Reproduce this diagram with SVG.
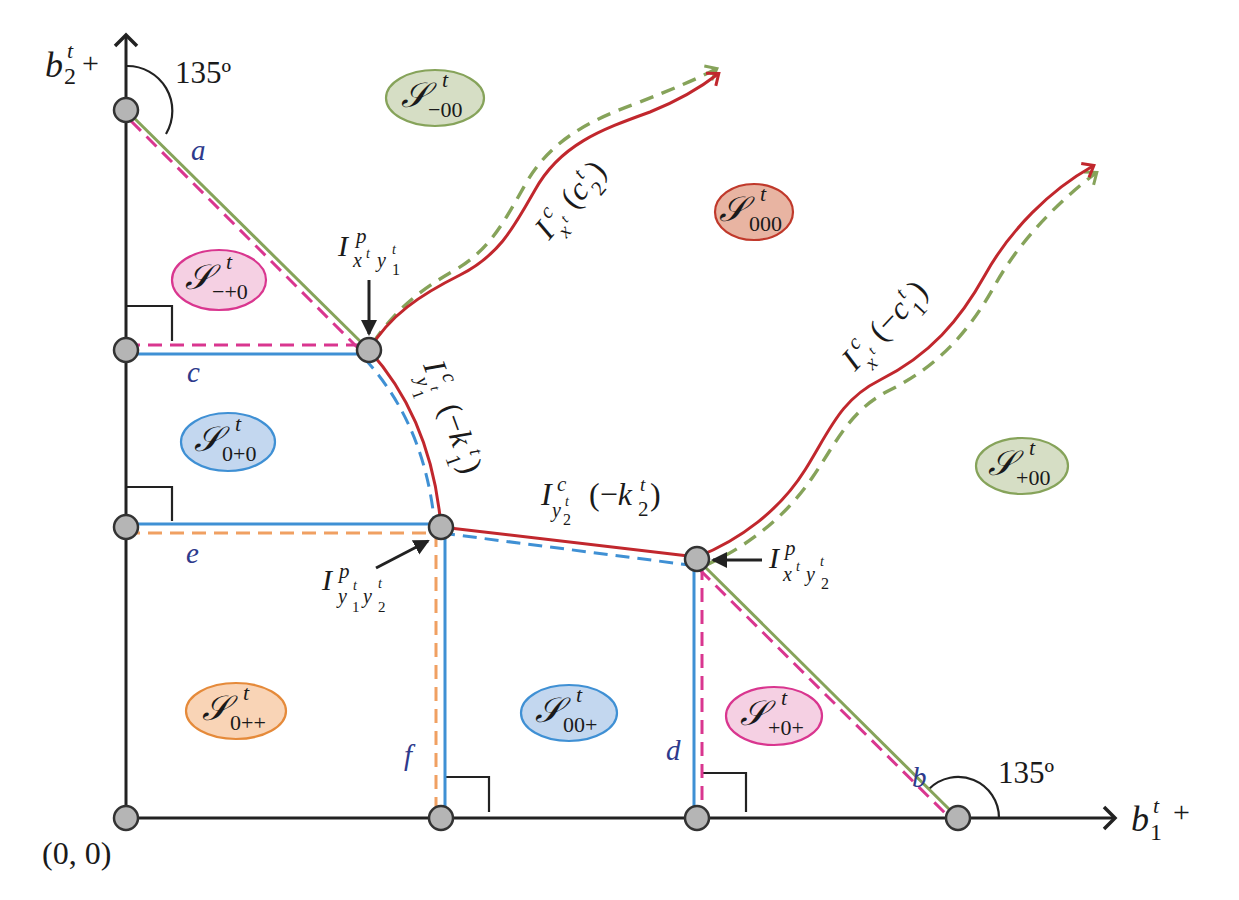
<svg xmlns="http://www.w3.org/2000/svg" width="1239" height="900" viewBox="0 0 1239 900">
<style>
.ax{stroke:#222;stroke-width:3;fill:none}
.rm{stroke:#222;stroke-width:2.2;fill:none}
.g{stroke:#86a35a;stroke-width:3;fill:none}
.gd{stroke:#86a35a;stroke-width:3.4;fill:none;stroke-dasharray:14 9}
.p{stroke:#d9368f;stroke-width:3;fill:none;stroke-dasharray:14 8}
.b{stroke:#3f90d4;stroke-width:3;fill:none}
.bd{stroke:#3f90d4;stroke-width:3;fill:none;stroke-dasharray:14 8}
.o{stroke:#f0a062;stroke-width:3;fill:none;stroke-dasharray:14 8}
.r{stroke:#c1272d;stroke-width:3;fill:none}
.node{fill:#b5b5b5;stroke:#333;stroke-width:2.5}
text{font-family:"Liberation Serif","Times New Roman",serif;fill:#1a1a1a}
.it{font-style:italic}
.lb{font-style:italic;fill:#2e3a8c;font-size:29px}
.S{font-style:italic;font-size:35px}
.sup{font-size:22px;font-style:italic}
.sub{font-size:22px}
.eg{fill:#d6dec5;stroke:#86a35a;stroke-width:2.2}
.er{fill:#e8b4a2;stroke:#c0392b;stroke-width:2.2}
.ep{fill:#f5d0e3;stroke:#d9368f;stroke-width:2.2}
.eb{fill:#c3d7ef;stroke:#3f90d4;stroke-width:2.2}
.eo{fill:#f9d4b6;stroke:#e58a3a;stroke-width:2.2}
</style>
<defs>
<marker id="ahAx" markerWidth="26" markerHeight="26" refX="13" refY="13" orient="auto" markerUnits="userSpaceOnUse"><path d="M3,2 L14,13 L3,24" fill="none" stroke="#222" stroke-width="3.5"/></marker>
<marker id="ahR" markerWidth="24" markerHeight="24" refX="12" refY="12" orient="auto" markerUnits="userSpaceOnUse"><path d="M3,4 L13,12 L3,20" fill="none" stroke="#c1272d" stroke-width="3"/></marker>
<marker id="ahG" markerWidth="24" markerHeight="24" refX="12" refY="12" orient="auto" markerUnits="userSpaceOnUse"><path d="M3,4 L13,12 L3,20" fill="none" stroke="#86a35a" stroke-width="3"/></marker>
<marker id="ahK" markerWidth="24" markerHeight="24" refX="14" refY="12" orient="auto" markerUnits="userSpaceOnUse"><path d="M0,4 L16,12 L0,20 Z" fill="#222"/></marker>
</defs>

<g id="connectors">
  <path class="ax" d="M126,818 V36" marker-end="url(#ahAx)"/>
  <path class="ax" d="M126,818 H1114" marker-end="url(#ahAx)"/>
  <path class="rm" d="M126,66 A45,45 0 0 1 166,134"/>
  <path class="rm" d="M929,789 A41,41 0 0 1 999,818"/>
  <path class="rm" d="M126,306 H172 V341"/>
  <path class="rm" d="M126,487 H172 V521"/>
  <path class="rm" d="M445,777 H489 V812"/>
  <path class="rm" d="M702,773 H746 V812"/>
  <path class="p" d="M131,121 L362,352"/>
  <path class="g" d="M126,110 L369,350"/>
  <path class="p" d="M126,345 H362"/>
  <path class="b" d="M126,354 H369"/>
  <path class="o" d="M126,533 H436"/>
  <path class="b" d="M126,524 H441"/>
  <path class="o" d="M436,533 V818"/>
  <path class="b" d="M445,527 V818"/>
  <path class="b" d="M694,559 V818"/>
  <path class="p" d="M702,566 V818"/>
  <path class="p" d="M700,570 L950,818"/>
  <path class="g" d="M697,559 L958,818"/>
  <path class="bd" d="M364,358 Q426,425 435,528"/>
  <path class="r" d="M369,350 Q432,420 441,527"/>
  <path class="bd" d="M441,533 L697,566"/>
  <path class="r" d="M441,527 L697,557"/>
  <path class="gd" d="M373,343 C395,310 420,290 455,270 C490,250 505,220 525,185 C550,140 590,120 640,102 C670,90 695,80 716,69" marker-end="url(#ahG)"/>
  <path class="r" d="M369,350 C390,315 420,295 460,275 C500,255 515,225 535,190 C560,145 600,130 650,112 C680,100 700,88 718,74" marker-end="url(#ahR)"/>
  <path class="gd" d="M704,566 C745,548 785,518 812,478 C838,440 850,410 890,390 C940,365 970,330 995,285 C1020,240 1060,200 1096,173" marker-end="url(#ahG)"/>
  <path class="r" d="M697,557 C740,540 780,510 805,470 C830,430 840,400 880,380 C930,355 960,320 985,275 C1010,230 1050,190 1093,166" marker-end="url(#ahR)"/>
  <path d="M369,280 V334" stroke="#222" stroke-width="3" fill="none" marker-end="url(#ahK)"/>
  <path d="M376,568 L428,541" stroke="#222" stroke-width="3" fill="none" marker-end="url(#ahK)"/>
  <path d="M762,560 H713" stroke="#222" stroke-width="3" fill="none" marker-end="url(#ahK)"/>
</g>

<g id="nodes">
  <g id="n1"><circle class="node" cx="126" cy="110" r="12"/></g>
  <g id="n2"><circle class="node" cx="126" cy="350" r="12"/></g>
  <g id="n3"><circle class="node" cx="126" cy="527" r="12"/></g>
  <g id="n4"><circle class="node" cx="126" cy="818" r="12"/></g>
  <g id="n5"><circle class="node" cx="369" cy="350" r="12"/></g>
  <g id="n6"><circle class="node" cx="441" cy="527" r="12"/></g>
  <g id="n7"><circle class="node" cx="697" cy="559" r="12"/></g>
  <g id="n8"><circle class="node" cx="441" cy="818" r="12"/></g>
  <g id="n9"><circle class="node" cx="697" cy="818" r="12"/></g>
  <g id="n10"><circle class="node" cx="958" cy="818" r="12"/></g>
</g>

<g id="regions">
  <g id="S-00"><ellipse class="eg" cx="435" cy="98" rx="49" ry="28"/>
    <text class="S" x="401" y="107">𝒮</text><text class="sup" x="442" y="87">t</text><text class="sub" x="428" y="117">−00</text></g>
  <g id="S000"><ellipse class="er" cx="754" cy="212" rx="39" ry="28"/>
    <text class="S" x="719" y="221">𝒮</text><text class="sup" x="760" y="201">t</text><text class="sub" x="749" y="231">000</text></g>
  <g id="S-+0"><ellipse class="ep" cx="219" cy="280" rx="47" ry="30"/>
    <text class="S" x="185" y="289">𝒮</text><text class="sup" x="226" y="269">t</text><text class="sub" x="212" y="299">−+0</text></g>
  <g id="S0+0"><ellipse class="eb" cx="228" cy="442" rx="47" ry="29"/>
    <text class="S" x="194" y="451">𝒮</text><text class="sup" x="235" y="431">t</text><text class="sub" x="222" y="461">0+0</text></g>
  <g id="S+00"><ellipse class="eg" cx="1022" cy="466" rx="46" ry="28"/>
    <text class="S" x="988" y="475">𝒮</text><text class="sup" x="1029" y="455">t</text><text class="sub" x="1016" y="485">+00</text></g>
  <g id="S0++"><ellipse class="eo" cx="236" cy="711" rx="50" ry="28"/>
    <text class="S" x="202" y="720">𝒮</text><text class="sup" x="243" y="700">t</text><text class="sub" x="230" y="730">0++</text></g>
  <g id="S00+"><ellipse class="eb" cx="569" cy="713" rx="48" ry="28"/>
    <text class="S" x="535" y="722">𝒮</text><text class="sup" x="576" y="702">t</text><text class="sub" x="563" y="732">00+</text></g>
  <g id="S+0+"><ellipse class="ep" cx="774" cy="716" rx="48" ry="29"/>
    <text class="S" x="740" y="725">𝒮</text><text class="sup" x="781" y="705">t</text><text class="sub" x="768" y="735">+0+</text></g>
</g>

<g id="labels">
  <text class="it" x="45" y="77" font-size="36">b</text><text class="it" x="67" y="58" font-size="22">t</text><text x="64" y="84" font-size="24">2</text><text x="82" y="73" font-size="30">+</text>
  <text class="it" x="1131" y="831" font-size="36">b</text><text class="it" x="1153" y="813" font-size="22">t</text><text x="1150" y="840" font-size="24">1</text><text x="1173" y="822" font-size="30">+</text>
  <text x="175" y="83" font-size="31">135º</text>
  <text x="998" y="783" font-size="31">135º</text>
  <text x="42" y="864" font-size="32">(0, 0)</text>
  <text class="lb" x="191" y="160">a</text>
  <text class="lb" x="187" y="382">c</text>
  <text class="lb" x="186" y="563">e</text>
  <text class="lb" x="404" y="765">f</text>
  <text class="lb" x="666" y="760">d</text>
  <text class="lb" x="912" y="787">b</text>
  <g id="Ixy1"><text class="it" x="338" y="256" font-size="30">I</text><text class="it" x="356" y="243" font-size="21">p</text>
    <text class="it" x="353" y="267" font-size="20">x</text><text class="it" x="366" y="258" font-size="14">t</text>
    <text class="it" x="377" y="267" font-size="20">y</text><text class="it" x="392" y="254" font-size="14">t</text><text x="392" y="275" font-size="16">1</text></g>
  <g id="Iy1y2"><text class="it" x="322" y="590" font-size="30">I</text><text class="it" x="339" y="578" font-size="21">p</text>
    <text class="it" x="338" y="603" font-size="20">y</text><text class="it" x="353" y="590" font-size="14">t</text><text x="352" y="612" font-size="15">1</text>
    <text class="it" x="363" y="603" font-size="20">y</text><text class="it" x="378" y="588" font-size="14">t</text><text x="378" y="612" font-size="15">2</text></g>
  <g id="Ixy2"><text class="it" x="769" y="568" font-size="30">I</text><text class="it" x="785" y="555" font-size="21">p</text>
    <text class="it" x="783" y="581" font-size="20">x</text><text class="it" x="796" y="571" font-size="14">t</text>
    <text class="it" x="806" y="581" font-size="20">y</text><text class="it" x="820" y="566" font-size="14">t</text><text x="821" y="589" font-size="16">2</text></g>
  <g id="Iy2"><text class="it" x="541" y="505" font-size="32">I</text><text class="it" x="557" y="491" font-size="21">c</text>
    <text class="it" x="552" y="517" font-size="20">y</text><text class="it" x="565" y="506" font-size="14">t</text><text x="563" y="525" font-size="16">2</text>
    <text x="589" y="505" font-size="32">(−<tspan font-style="italic">k</tspan></text><text class="it" x="640" y="491" font-size="19">t</text><text x="638" y="516" font-size="21">2</text><text x="650" y="505" font-size="32">)</text></g>
  <g id="Iy1" transform="translate(423,365) rotate(70)"><text class="it" x="0" y="0" font-size="32">I</text><text class="it" x="16" y="-14" font-size="21">c</text>
    <text class="it" x="11" y="12" font-size="20">y</text><text class="it" x="24" y="1" font-size="14">t</text><text x="22" y="20" font-size="16">1</text>
    <text x="46" y="0" font-size="32">(−<tspan font-style="italic">k</tspan></text><text class="it" x="97" y="-14" font-size="19">t</text><text x="95" y="11" font-size="21">1</text><text x="107" y="0" font-size="32">)</text></g>
  <g id="Ix2" transform="translate(549,241) rotate(-50)"><text class="it" x="0" y="0" font-size="32">I</text><text class="it" x="16" y="-14" font-size="21">c</text>
    <text class="it" x="13" y="12" font-size="20">x</text><text class="it" x="25" y="2" font-size="14">t</text>
    <text x="40" y="0" font-size="32">(<tspan font-style="italic">c</tspan></text><text class="it" x="68" y="-14" font-size="19">t</text><text x="67" y="11" font-size="21">2</text><text x="80" y="0" font-size="32">)</text></g>
  <g id="Ix1" transform="translate(855,372) rotate(-47)"><text class="it" x="0" y="0" font-size="32">I</text><text class="it" x="16" y="-14" font-size="21">c</text>
    <text class="it" x="13" y="12" font-size="20">x</text><text class="it" x="25" y="2" font-size="14">t</text>
    <text x="40" y="0" font-size="32">(−<tspan font-style="italic">c</tspan></text><text class="it" x="86" y="-14" font-size="19">t</text><text x="85" y="11" font-size="21">1</text><text x="98" y="0" font-size="32">)</text></g>
</g>
</svg>
